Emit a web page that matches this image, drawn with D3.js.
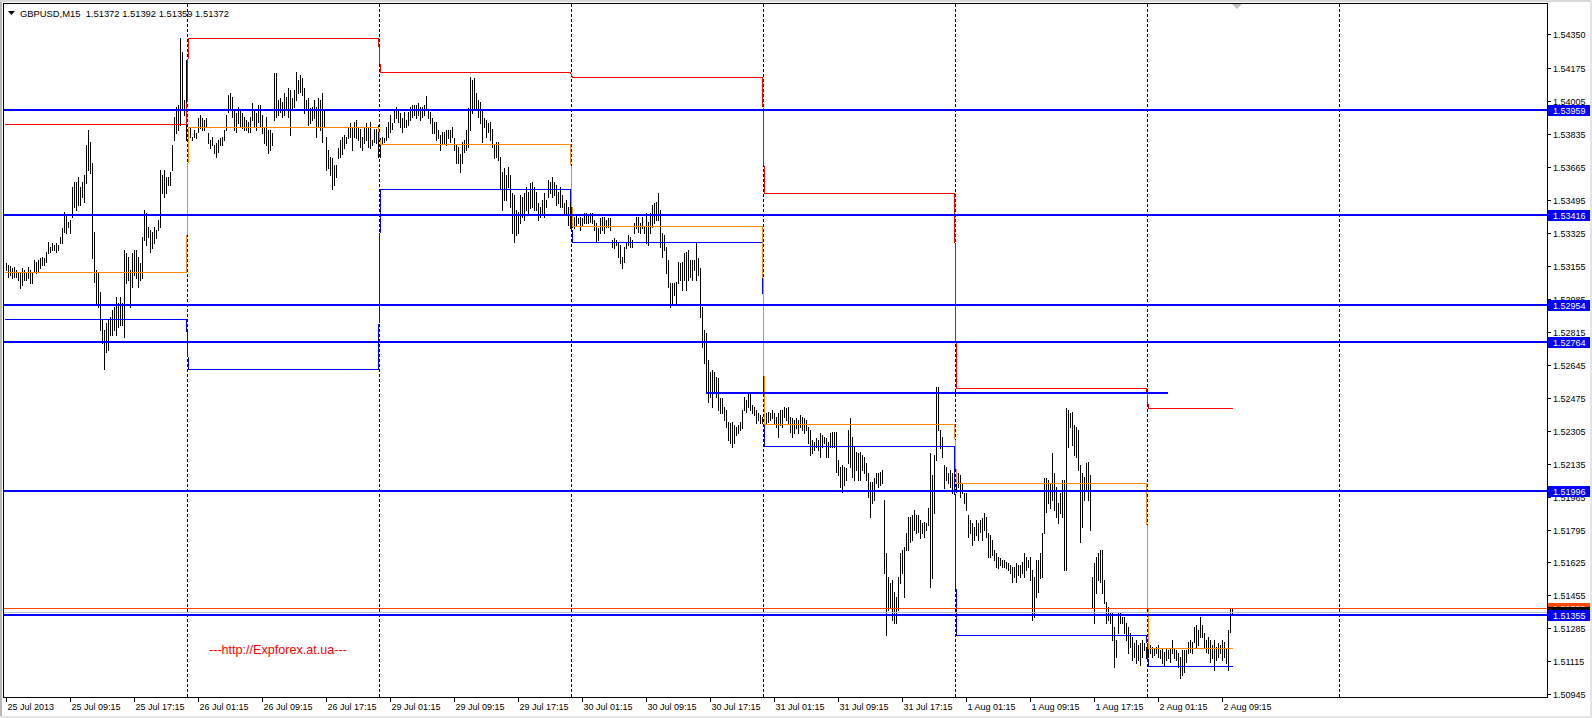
<!DOCTYPE html>
<html><head><meta charset="utf-8">
<script src="https://cdn.jsdelivr.net/npm/d3@7/dist/d3.min.js"></script>
<style>
html,body{margin:0;padding:0;background:#fff;}
svg{display:block;font-family:"Liberation Sans",Arial,sans-serif;}
</style></head>
<body>
<script>
// ---------------- DATA ----------------
const symbolTitle = "GBPUSD,M15";
const lastOHLC = [1.51372, 1.51392, 1.51359, 1.51372];
const dayNames = ["25 Jul","26 Jul","29 Jul","30 Jul","31 Jul","1 Aug","2 Aug","3 Aug"];
const barsPerDay = 96;          // M15 bars in a day
const firstBar = 5;             // 25 Jul 01:15

// bar highs / lows, one row per trading day
const highs = [
 // 25 Jul
 1.53168,1.53159,1.53154,1.53142,1.53147,1.53134,1.53125,1.53116,1.53142,1.53134,1.53125,1.53147,1.53134,1.53116,1.53185,1.53177,1.53185,1.53194,1.53202,1.53194,1.53228,1.53280,1.53254,1.53271,1.53263,1.53271,1.53263,1.53306,1.53349,1.53435,1.53417,1.53383,1.53392,1.53564,1.53589,1.53589,1.53615,1.53564,1.53589,1.53624,1.53779,1.53856,1.53796,1.53684,1.53332,1.53134,1.53116,1.53022,1.52876,1.52824,1.52859,1.52876,1.52893,1.52927,1.52945,1.52996,1.52962,1.52996,1.52962,1.53237,1.53220,1.53202,1.53134,1.53220,1.53237,1.53237,1.53202,1.53168,1.53306,1.53443,1.53426,1.53357,1.53340,1.53332,1.53357,1.53340,1.53392,1.53650,1.53624,1.53650,1.53615,1.53615,1.53641,1.53779,1.53925,1.53976,1.53985,1.54329,1.54260,1.54011,1.54217,
 // 26 Jul
 1.53856,1.53865,1.53822,1.53856,1.53839,1.53916,1.53933,1.53916,1.53908,1.53916,1.53839,1.53804,1.53822,1.53779,1.53787,1.53804,1.53813,1.53822,1.53856,1.53933,1.54037,1.54045,1.54028,1.53959,1.53942,1.53976,1.53959,1.53942,1.53925,1.53908,1.53899,1.53925,1.53994,1.53959,1.53942,1.53985,1.53985,1.53933,1.53873,1.53925,1.53856,1.53856,1.53839,1.54152,1.54148,1.54011,1.54019,1.54002,1.54045,1.54028,1.54071,1.54062,1.54019,1.54062,1.54157,1.54114,1.54140,1.54123,1.54071,1.54011,1.54019,
 1.53968,1.53976,1.54011,1.53976,1.54019,1.54011,1.54045,1.53959,1.53821,1.53753,1.53718,1.53710,1.53675,1.53675,1.53761,1.53804,1.53821,1.53830,1.53821,1.53873,1.53890,1.53873,1.53899,1.53907,1.53873,1.53864,1.53821,1.53873,1.53890,1.53873,1.53899,1.53804,1.53864,1.53864,1.53881,
 // 29 Jul
 1.53813,1.53821,1.53813,1.53873,1.53899,1.53933,1.53890,1.53959,1.53976,1.53959,1.53942,1.53916,1.53950,1.53907,1.53950,1.53976,1.53985,1.53985,1.53985,1.53993,1.53976,1.53976,1.53985,1.54031,1.53959,1.53950,1.53916,1.53899,1.53899,1.53856,1.53830,1.53847,1.53847,1.53856,1.53856,1.53856,1.53873,1.53813,1.53778,1.53770,1.53735,1.53796,1.53804,1.53856,1.53968,1.54131,1.54114,1.54122,1.54045,1.54011,1.54002,1.53959,1.53916,1.53907,1.53890,1.53899,1.53864,1.53778,1.53796,1.53796,1.53718,1.53641,1.53658,1.53624,1.53667,1.53624,1.53529,1.53521,1.53443,1.53435,1.53521,1.53512,1.53529,1.53564,1.53538,1.53581,1.53589,1.53564,1.53538,1.53478,1.53460,1.53495,1.53529,1.53495,1.53598,1.53589,1.53615,1.53589,1.53572,1.53538,1.53564,1.53521,1.53478,1.53495,1.53460,1.53512,
 // 30 Jul
 1.53417,1.53409,1.53417,1.53400,1.53409,1.53400,1.53426,1.53426,1.53417,1.53426,1.53426,1.53392,1.53374,1.53349,1.53400,1.53409,1.53409,1.53392,1.53400,
 1.53400,1.53288,1.53297,1.53288,1.53271,1.53263,1.53202,1.53254,1.53280,1.53314,1.53306,1.53288,1.53374,1.53409,1.53409,1.53374,1.53409,1.53357,1.53426,1.53383,1.53426,1.53469,1.53478,1.53486,1.53529,1.53443,1.53323,1.53314,1.53254,1.53185,1.53065,1.53065,1.53065,1.53073,1.53177,1.53168,1.53177,1.53220,1.53228,1.53237,1.53185,1.53185,1.53185,1.53280,1.53194,1.53142,1.52945,1.52824,1.52807,1.52669,1.52609,1.52618,1.52609,1.52583,1.52575,1.52472,1.52472,1.52429,1.52411,1.52351,1.52343,1.52351,1.52334,1.52325,1.52334,1.52351,1.52411,1.52480,1.52463,1.52497,1.52497,1.52437,1.52429,1.52411,1.52394,1.52386,1.52377,
 // 31 Jul
 1.52386,1.52394,1.52403,1.52394,1.52411,1.52394,1.52377,1.52394,1.52411,1.52411,1.52429,1.52420,1.52429,1.52377,1.52368,1.52360,1.52368,1.52360,1.52386,1.52377,1.52368,1.52360,1.52325,1.52308,1.52257,1.52248,1.52265,1.52257,1.52291,1.52282,1.52274,1.52265,1.52248,1.52291,1.52300,1.52300,1.52300,1.52153,1.52119,1.52128,1.52119,1.52111,1.52308,1.52368,1.52274,1.52222,1.52196,1.52188,1.52196,1.52179,1.52171,1.52136,1.52085,1.52042,1.52042,1.52059,1.52085,1.52085,1.52093,1.52102,1.51947,1.51672,1.51552,1.51517,1.51534,1.51474,1.51448,1.51552,1.51672,1.51689,1.51706,1.51775,1.51861,1.51861,1.51870,1.51895,1.51870,1.51870,
 1.51845,1.51827,1.51836,1.51827,1.51905,1.52189,1.52077,1.52180,1.52532,1.52532,1.52309,1.52274,1.52128,1.52120,1.52085,1.52102,1.52085,1.52077,
 // 1 Aug
 1.52094,1.52085,1.52077,1.52034,1.51982,1.51982,1.51870,1.51845,1.51827,1.51810,1.51845,1.51827,1.51845,1.51853,1.51879,1.51862,1.51776,1.51767,1.51741,1.51690,1.51673,1.51655,1.51647,1.51638,1.51638,1.51630,1.51621,1.51612,1.51604,1.51604,1.51621,1.51612,1.51612,1.51630,1.51673,1.51655,1.51638,1.51655,1.51587,1.51552,1.51638,1.51638,1.51673,1.51776,1.52060,1.52060,1.52051,1.52034,1.52189,1.52085,1.52017,1.51931,1.51982,1.52051,1.52051,1.52421,1.52412,1.52395,1.52403,1.52335,1.52326,1.52309,1.52128,1.52085,1.52068,1.52137,1.52145,1.52077,1.51552,1.51621,1.51655,1.51673,1.51690,1.51690,1.51535,1.51423,1.51397,1.51372,1.51363,1.51294,1.51226,1.51363,1.51363,1.51346,1.51346,1.51311,1.51294,1.51260,1.51243,1.51208,1.51226,1.51200,1.51208,1.51226,1.51208,1.51191,
 // 2 Aug
 1.51208,1.51200,1.51191,1.51182,1.51191,1.51200,1.51174,1.51182,1.51165,1.51182,1.51174,1.51182,1.51226,1.51182,1.51174,1.51157,1.51139,1.51174,1.51174,1.51174,1.51217,1.51226,1.51217,1.51294,1.51303,1.51277,1.51346,1.51303,1.51260,1.51226,1.51243,1.51226,1.51200,1.51226,1.51191,1.51208,
 1.51199,1.51225,1.51217,1.51182,1.51277,1.51389,1.51392
];
const lows = [
 // 25 Jul
 1.53134,1.53099,1.53108,1.53091,1.53099,1.53096,1.53082,1.53039,1.53056,1.53082,1.53082,1.53091,1.53065,1.53065,1.53125,1.53116,1.53125,1.53142,1.53159,1.53159,1.53177,1.53220,1.53228,1.53237,1.53237,1.53228,1.53237,1.53271,1.53271,1.53332,1.53323,1.53357,1.53323,1.53409,1.53460,1.53443,1.53469,1.53469,1.53512,1.53486,1.53581,1.53650,1.53632,1.53194,1.53074,1.52962,1.52945,1.52824,1.52755,1.52622,1.52712,1.52721,1.52798,1.52798,1.52824,1.52798,1.52841,1.52850,1.52850,1.52790,1.53065,1.53082,1.52945,1.53048,1.53108,1.53091,1.53048,1.53082,1.53091,1.53288,1.53263,1.53306,1.53228,1.53246,1.53271,1.53297,1.53340,1.53357,1.53529,1.53512,1.53529,1.53572,1.53572,1.53650,1.53804,1.53839,1.53856,1.53882,1.53959,1.53933,1.53804,
 // 26 Jul
 1.53804,1.53822,1.53804,1.53822,1.53813,1.53847,1.53865,1.53856,1.53856,1.53873,1.53787,1.53761,1.53779,1.53736,1.53718,1.53744,1.53779,1.53779,1.53804,1.53856,1.53951,1.53959,1.53925,1.53856,1.53847,1.53890,1.53873,1.53865,1.53856,1.53856,1.53847,1.53847,1.53908,1.53873,1.53856,1.53899,1.53873,1.53839,1.53787,1.53779,1.53736,1.53753,1.53779,1.53908,1.53925,1.53933,1.53951,1.53925,1.53933,1.53959,1.53925,1.53830,1.53959,1.53976,1.54011,1.54045,1.54054,1.54037,1.53942,1.53959,1.53882,
 1.53890,1.53907,1.53916,1.53821,1.53873,1.53856,1.53796,1.53873,1.53650,1.53658,1.53624,1.53552,1.53572,1.53615,1.53710,1.53718,1.53735,1.53761,1.53787,1.53813,1.53821,1.53753,1.53821,1.53813,1.53804,1.53770,1.53753,1.53787,1.53804,1.53770,1.53761,1.53778,1.53796,1.53787,1.53718,
 // 29 Jul
 1.53718,1.53787,1.53796,1.53804,1.53821,1.53847,1.53864,1.53899,1.53916,1.53899,1.53873,1.53847,1.53873,1.53873,1.53882,1.53907,1.53925,1.53933,1.53916,1.53933,1.53907,1.53925,1.53933,1.53959,1.53916,1.53890,1.53839,1.53839,1.53804,1.53813,1.53753,1.53787,1.53787,1.53778,1.53813,1.53796,1.53821,1.53753,1.53684,1.53684,1.53641,1.53684,1.53744,1.53753,1.53770,1.53856,1.53942,1.53968,1.53968,1.53925,1.53890,1.53796,1.53873,1.53821,1.53847,1.53804,1.53770,1.53710,1.53718,1.53701,1.53555,1.53443,1.53495,1.53495,1.53564,1.53460,1.53323,1.53280,1.53314,1.53323,1.53374,1.53409,1.53391,1.53443,1.53417,1.53452,1.53460,1.53443,1.53443,1.53391,1.53409,1.53417,1.53409,1.53460,1.53512,1.53529,1.53512,1.53521,1.53469,1.53478,1.53460,1.53460,1.53417,1.53426,1.53366,1.53349,
 // 30 Jul
 1.53357,1.53349,1.53366,1.53374,1.53340,1.53366,1.53374,1.53374,1.53374,1.53383,1.53374,1.53340,1.53280,1.53288,1.53323,1.53340,1.53323,1.53357,1.53357,
 1.53340,1.53254,1.53245,1.53263,1.53202,1.53168,1.53142,1.53177,1.53245,1.53263,1.53254,1.53254,1.53323,1.53349,1.53331,1.53323,1.53349,1.53323,1.53271,1.53263,1.53323,1.53357,1.53374,1.53392,1.53392,1.53254,1.53202,1.53237,1.53116,1.53048,1.52945,1.52962,1.53005,1.52962,1.53065,1.53082,1.53030,1.53082,1.53030,1.53082,1.53099,1.53082,1.53134,1.53082,1.53108,1.52893,1.52738,1.52652,1.52497,1.52454,1.52480,1.52429,1.52497,1.52480,1.52411,1.52394,1.52394,1.52360,1.52325,1.52257,1.52239,1.52222,1.52239,1.52282,1.52291,1.52308,1.52317,1.52411,1.52403,1.52429,1.52411,1.52394,1.52386,1.52343,1.52360,1.52343,1.52343,
 // 31 Jul
 1.52351,1.52343,1.52351,1.52360,1.52368,1.52343,1.52325,1.52274,1.52334,1.52325,1.52377,1.52360,1.52343,1.52300,1.52274,1.52291,1.52317,1.52291,1.52325,1.52308,1.52291,1.52308,1.52239,1.52179,1.52188,1.52205,1.52222,1.52205,1.52171,1.52222,1.52239,1.52171,1.52171,1.52222,1.52222,1.52222,1.52093,1.52076,1.52016,1.51990,1.52025,1.52050,1.52136,1.52119,1.52068,1.52050,1.52102,1.52050,1.52050,1.52102,1.52085,1.52050,1.51964,1.51861,1.51930,1.51947,1.52033,1.52016,1.52025,1.52033,1.51569,1.51250,1.51380,1.51388,1.51328,1.51311,1.51311,1.51380,1.51517,1.51569,1.51448,1.51689,1.51689,1.51732,1.51741,1.51792,1.51775,1.51784,
 1.51750,1.51776,1.51759,1.51793,1.51819,1.51501,1.51544,1.51879,1.52154,1.52309,1.52214,1.52171,1.52008,1.52051,1.52034,1.52017,1.51982,1.52008,
 // 1 Aug
 1.51991,1.52017,1.51965,1.51982,1.51931,1.51896,1.51759,1.51776,1.51716,1.51741,1.51767,1.51741,1.51784,1.51741,1.51793,1.51759,1.51655,1.51655,1.51664,1.51638,1.51604,1.51595,1.51612,1.51604,1.51604,1.51595,1.51587,1.51569,1.51526,1.51552,1.51526,1.51561,1.51552,1.51569,1.51552,1.51587,1.51604,1.51535,1.51329,1.51346,1.51449,1.51475,1.51544,1.51552,1.51776,1.51888,1.51931,1.51905,1.51948,1.51896,1.51862,1.51827,1.51879,1.51862,1.51587,1.51587,1.52223,1.52326,1.52231,1.52180,1.52171,1.52102,1.51733,1.51810,1.51948,1.51999,1.51948,1.51793,1.51397,1.51311,1.51466,1.51535,1.51526,1.51466,1.51415,1.51311,1.51329,1.51311,1.51226,1.51088,1.51139,1.51260,1.51311,1.51311,1.51260,1.51226,1.51157,1.51191,1.51122,1.51139,1.51105,1.51122,1.51097,1.51139,1.51174,1.51131,
 // 2 Aug
 1.51139,1.51157,1.51139,1.51148,1.51157,1.51139,1.51131,1.51105,1.51097,1.51122,1.51131,1.51114,1.51157,1.51131,1.51122,1.51088,1.51028,1.51045,1.51062,1.51114,1.51157,1.51165,1.51157,1.51217,1.51191,1.51200,1.51243,1.51243,1.51191,1.51165,1.51157,1.51114,1.51131,1.51071,1.51122,1.51139,
 1.51156,1.51122,1.51139,1.51105,1.51070,1.51268,1.51359
];

// daily indicator levels (previous day high / low / close), one per day
const prevHigh  = [1.53886, 1.54329, 1.54154, 1.54130, 1.53530, 1.52527, 1.52421];
const prevLow   = [1.52880, 1.52622, 1.53552, 1.53277, 1.52225, 1.51249, 1.51091];
const prevClose = [1.53122, 1.53870, 1.53783, 1.53360, 1.52338, 1.52034, 1.51184];

// horizontal support / resistance levels
const levelPrices = [1.53959, 1.53416, 1.52954, 1.52764, 1.51996, 1.51355];
// short horizontal trend line
const trendLine = {price: 1.52501, from: "30 Jul 16:45", to: "2 Aug 02:30"};
const bidPrice = 1.51372;
const askPrice = 1.51389;

const priceTicks = ["1.54350","1.54175","1.54005","1.53835","1.53665","1.53495","1.53325","1.53155","1.52985","1.52815","1.52645","1.52475","1.52305","1.52135","1.51965","1.51795","1.51625","1.51455","1.51285","1.51115","1.50945"];
const timeLabels = ["25 Jul 2013","25 Jul 09:15","25 Jul 17:15","26 Jul 01:15","26 Jul 09:15","26 Jul 17:15","29 Jul 01:15","29 Jul 09:15","29 Jul 17:15","30 Jul 01:15","30 Jul 09:15","30 Jul 17:15","31 Jul 01:15","31 Jul 09:15","31 Jul 17:15","1 Aug 01:15","1 Aug 09:15","1 Aug 17:15","2 Aug 01:15","2 Aug 09:15"];
const watermark = "---http://Expforex.at.ua---";

// ---------------- LAYOUT ----------------
const W = 1592, H = 718;
const plot = {left: 4, top: 4, right: 1547, bottom: 697};
const lastBar = firstBar + highs.length - 1;

function timeToIndex(s) {
  const p = s.split(" ");
  const d = dayNames.indexOf(p[0] + " " + p[1]);
  if (p[2].indexOf(":") < 0) return firstBar;
  const [hh, mm] = p[2].split(":").map(Number);
  return d * barsPerDay + hh * 4 + mm / 15;
}

const x = d3.scaleLinear().domain([0, 776]).range([-4, 1548]);
const y = d3.scaleLinear().domain([1.5435, 1.50945]).range([34.3, 694.3]);
const cy = v => Math.round(y(v)) + 0.5;
const cx = i => Math.round(x(i)) + 0.5;

const svg = d3.select("body").append("svg").attr("width", W).attr("height", H);
svg.append("rect").attr("width", W).attr("height", H).attr("fill", "#fff");
// window frame strips
svg.append("rect").attr("x",0).attr("y",0).attr("width",2).attr("height",H).attr("fill","#b8b8b8");
svg.append("rect").attr("x",0).attr("y",0).attr("width",W).attr("height",2).attr("fill","#d8d8d8");
svg.append("rect").attr("x",W-2).attr("y",0).attr("width",2).attr("height",H).attr("fill","#e4e4e4");
svg.append("rect").attr("x",0).attr("y",H-2).attr("width",W).attr("height",2).attr("fill","#e4e4e4");

const defs = svg.append("defs");
defs.append("clipPath").attr("id","clip").append("rect")
  .attr("x", plot.left).attr("y", plot.top)
  .attr("width", plot.right - plot.left).attr("height", plot.bottom - plot.top);

const g = svg.append("g").attr("clip-path","url(#clip)");

// period separators
const seps = d3.range(1, dayNames.length).map(d => d * barsPerDay);
g.selectAll("line.sep").data(seps).join("line")
  .attr("x1", d => Math.round(x(d)) - 0.5).attr("x2", d => Math.round(x(d)) - 0.5)
  .attr("y1", plot.top).attr("y2", plot.bottom)
  .attr("stroke", "#000").attr("stroke-width", 1).attr("stroke-dasharray", "3,2")
  .attr("shape-rendering","crispEdges");

// bars
const bars = highs.map((h, k) => ({i: firstBar + k, h, l: lows[k]}));
g.append("g").selectAll("line").data(bars).join("line")
  .attr("x1", d => cx(d.i)).attr("x2", d => cx(d.i))
  .attr("y1", d => Math.round(y(d.h))).attr("y2", d => Math.round(y(d.l)) + 1)
  .attr("stroke", "#000").attr("stroke-width", 1).attr("shape-rendering","crispEdges");

// daily step lines
function stepData(arr) {
  return d3.range(firstBar - 1, lastBar + 1).map(i => ({i, v: arr[Math.floor(i / barsPerDay)]}));
}
const stepLine = d3.line().x(d => cx(d.i)).y(d => cy(d.v));
[[prevLow, "#0000ff"], [prevClose, "#ff8c00"], [prevHigh, "#ff0000"]].forEach(([arr, col]) => {
  g.append("path").attr("d", stepLine(stepData(arr)))
    .attr("fill","none").attr("stroke", col).attr("stroke-width", 1)
    .attr("shape-rendering","crispEdges");
});

// bid / ask lines
g.append("line").attr("x1", plot.left).attr("x2", plot.right)
  .attr("y1", cy(bidPrice)).attr("y2", cy(bidPrice))
  .attr("stroke", "#c0c0c0").attr("shape-rendering","crispEdges");
g.append("line").attr("x1", plot.left).attr("x2", plot.right)
  .attr("y1", cy(askPrice)).attr("y2", cy(askPrice))
  .attr("stroke", "#ff4500").attr("shape-rendering","crispEdges");

// thick horizontal levels
g.selectAll("line.lvl").data(levelPrices).join("line")
  .attr("x1", plot.left).attr("x2", plot.right)
  .attr("y1", d => Math.round(y(d))).attr("y2", d => Math.round(y(d)))
  .attr("stroke", "#0000ff").attr("stroke-width", 2).attr("shape-rendering","crispEdges");
// trend segment
g.append("line")
  .attr("x1", x(timeToIndex(trendLine.from))).attr("x2", x(timeToIndex(trendLine.to)))
  .attr("y1", Math.round(y(trendLine.price))).attr("y2", Math.round(y(trendLine.price)))
  .attr("stroke", "#0000ff").attr("stroke-width", 2).attr("shape-rendering","crispEdges");

// plot frame
svg.append("rect").attr("x", plot.left - 0.5).attr("y", plot.top - 0.5)
  .attr("width", plot.right - plot.left + 1).attr("height", plot.bottom - plot.top + 1)
  .attr("fill","none").attr("stroke","#000").attr("shape-rendering","crispEdges");

// right price axis
const fs = "9px";
const ya = svg.append("g");
priceTicks.forEach(t => {
  const v = +t, yy = Math.round(y(v)) + 0.5;
  ya.append("line").attr("x1", plot.right + 1).attr("x2", plot.right + 4)
    .attr("y1", yy).attr("y2", yy).attr("stroke","#000").attr("shape-rendering","crispEdges");
  ya.append("text").attr("x", plot.right + 6).attr("y", yy).attr("dy","0.35em")
    .attr("font-size", fs).attr("fill","#000").text(t);
});
function priceTag(v, bg, txt) {
  const yy = Math.round(y(v));
  ya.append("rect").attr("x", plot.right + 1).attr("y", yy - 5).attr("width", 42).attr("height", 11)
    .attr("fill", bg).attr("shape-rendering","crispEdges");
  ya.append("text").attr("x", plot.right + 6).attr("y", yy + 0.5).attr("dy","0.35em")
    .attr("font-size", fs).attr("fill", txt).text(v.toFixed(5));
}
priceTag(askPrice, "#ff4500", "#fff");
priceTag(bidPrice, "#000", "#fff");
levelPrices.forEach(v => priceTag(v, "#0000ff", "#fff"));

// bottom time axis
const xa = svg.append("g");
timeLabels.forEach(t => {
  const xx = Math.round(x(timeToIndex(t))) + 0.5;
  xa.append("line").attr("x1", xx).attr("x2", xx).attr("y1", plot.bottom + 1).attr("y2", plot.bottom + 5)
    .attr("stroke","#000").attr("shape-rendering","crispEdges");
  xa.append("text").attr("x", xx + 1).attr("y", plot.bottom + 13)
    .attr("font-size", fs).attr("fill","#000").text(t);
});

// header
svg.append("path").attr("d","M8,11 L15,11 L11.5,15 Z").attr("fill","#000");
svg.append("text").attr("x", 20).attr("y", 17).attr("font-size","9.4px").attr("fill","#000")
  .style("white-space","pre")
  .text(symbolTitle + "  " + lastOHLC.map(v => v.toFixed(5)).join(" "));

// chart shift marker
svg.append("path").attr("d","M1232,4 L1242,4 L1237,9 Z").attr("fill","#c0c0c0");

// watermark
svg.append("text").attr("x", 209).attr("y", 650).attr("dy","0.35em")
  .attr("font-size","12.6px").attr("fill","#ff0000").text(watermark);
</script>
</body></html>
